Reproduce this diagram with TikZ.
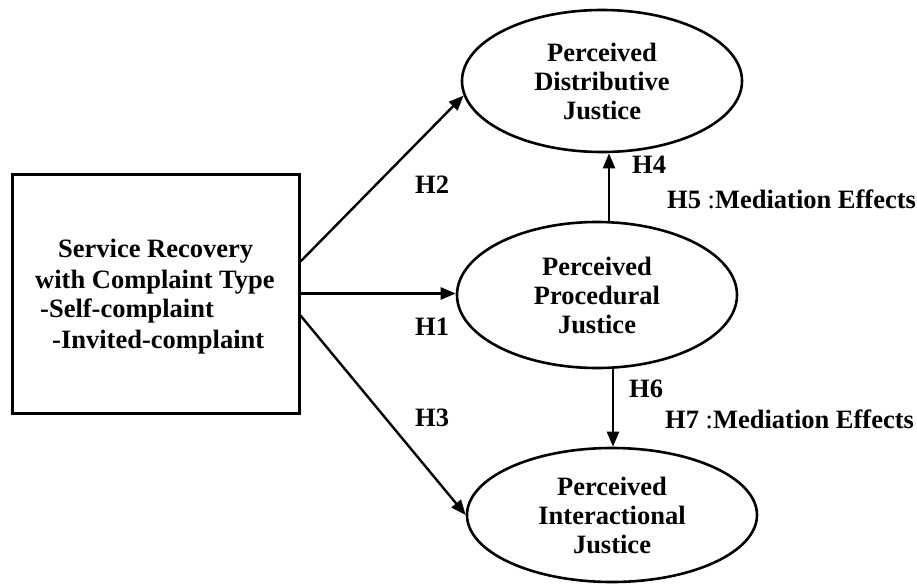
\documentclass[tikz,border=0pt]{standalone}
\usepackage{fontspec}
\setmainfont{Liberation Serif}
\usetikzlibrary{shapes.geometric,arrows.meta,calc}

\begin{document}
\begin{tikzpicture}[x=1pt,y=-1pt,
  txt/.style={font=\fontsize{26.5}{29}\selectfont\bfseries, inner sep=0pt},
  construct/.style={ellipse, draw, line width=2.6pt, inner sep=0pt, align=center, txt},
  hyp/.style={-{Triangle[length=15pt,width=12pt]}, line width=2.4pt},
  lbl/.style={txt, anchor=base west}]
\useasboundingbox (0,0) rectangle (917,583);

% independent variable
\node[draw, line width=3pt, minimum width=287pt, minimum height=239pt, inner sep=0pt] (src) at (155.5,293.5) {};
\node[lbl] (s1) at (58,257) {Service Recovery};
\node[lbl] (s2) at (35,288) {with Complaint Type};
\node[lbl] (s3) at (40,317) {-Self-complaint};
\node[lbl] (s4) at (52,348) {-Invited-complaint};

% justice constructs
\node[construct, minimum width=280pt, minimum height=142pt] (pdj) at (602,81) {Perceived\\Distributive\\Justice};
\node[construct, minimum width=280pt, minimum height=146pt] (pdp) at (597,295) {Perceived\\Procedural\\Justice};
\node[construct, minimum width=290pt, minimum height=134pt] (pij) at (612,515) {Perceived\\Interactional\\Justice};

% hypothesised paths
\draw[hyp] ($(src.east)+(0,-32)$) -- (pdj.186);
\draw[hyp] (src.east) -- (src.east -| pdp.west);
\draw[hyp] ($(src.east)+(0,22)$) -- (pij.west);
\coordinate (h4s) at ($(pdp.north)+(12,0)$);
\draw[hyp] (h4s) -- (h4s |- pdj.south);
\coordinate (h6s) at ($(pdp.south)+(16,0)$);
\draw[hyp] (h6s) -- (h6s |- pij.north);

% path labels
\node[lbl] (h2) at (415,193) {H2};
\node[lbl] (h1) at (415,335) {H1};
\node[lbl] (h3) at (415,426) {H3};
\node[lbl] (h4) at (632,173) {H4};
\node[lbl] (h5) at (667,208) {H5 {\mdseries:}Mediation Effects};
\node[lbl] (h6) at (629,397) {H6};
\node[lbl] (h7) at (665,428) {H7 {\mdseries:}Mediation Effects};
\end{tikzpicture}
\end{document}
